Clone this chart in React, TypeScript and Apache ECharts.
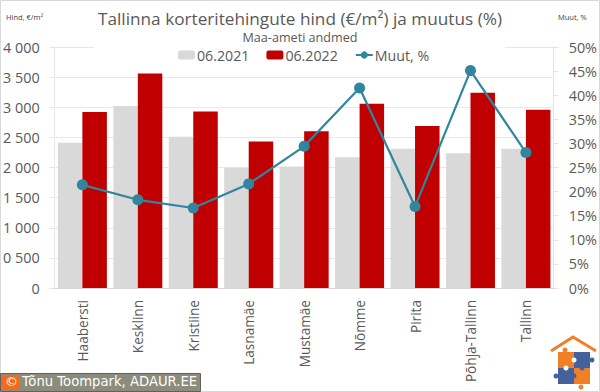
import React, { useEffect, useRef } from "react";
import * as echarts from "echarts";

const categories = ["Haabersti", "Kesklinn", "Kristiine", "Lasnamäe", "Mustamäe", "Nõmme", "Pirita", "Põhja-Tallinn", "Tallinn"];
const price2021 = [2410, 3020, 2510, 1995, 2015, 2170, 2310, 2235, 2310];
const price2022 = [2920, 3560, 2930, 2430, 2600, 3060, 2690, 3240, 2960];
const change = [21.4, 18.3, 16.6, 21.6, 29.4, 41.5, 16.9, 45.1, 28.1];

const FONT = "'Open Sans'";
const TXT = "#595959";

const fmtThousand = (v: number) => (v === 0 ? "0" : `${Math.floor(v / 1000)} ${String(v % 1000).padStart(3, "0")}`);

const orange = "#f07f26";
const blue = "#44619d";

export default function App() {
  const ref = useRef<HTMLDivElement>(null);
  useEffect(() => {
    const chart = echarts.init(ref.current!, null, { renderer: "svg" });
    chart.setOption({
      animation: false,
      backgroundColor: "#fff",
      textStyle: { fontFamily: FONT },
      title: {
        text: "Tallinna korteritehingute hind (€/m²) ja muutus (%)",
        left: 295, top: 5, textAlign: "center",
        textStyle: { fontFamily: FONT, fontSize: 17.2, fontWeight: "normal", color: TXT },
      },
      legend: {
        top: 48, left: 178, itemGap: 17, itemWidth: 17, itemHeight: 9, padding: 0,
        textStyle: { fontFamily: FONT, fontSize: 14.2, color: TXT, padding: [0, 0, 0, -3] },
        data: [{ name: "06.2021" }, { name: "06.2022" }, { name: "Muut, %" }],
      },
      grid: { left: 54, right: 45, top: 47, bottom: 104 },
      xAxis: {
        type: "category", data: categories,
        axisLine: { lineStyle: { color: "#d9d9d9" } },
        axisTick: { show: false },
        axisLabel: { rotate: 90, fontFamily: FONT, fontSize: 13.6, color: TXT, margin: 12, interval: 0 },
      },
      yAxis: [
        {
          type: "value", min: 0, max: 4000, interval: 500,
          axisLine: { show: true, lineStyle: { color: "#e8e8e8" } },
          axisTick: { show: true, length: 5, lineStyle: { color: "#e4e4e4" } },
          splitLine: { lineStyle: { color: "#e8e8e8" } },
          axisLabel: { fontFamily: FONT, fontSize: 14.4, color: TXT, formatter: fmtThousand, margin: 15 },
        },
        {
          type: "value", min: 0, max: 50, interval: 5, position: "right",
          axisLine: { show: true, lineStyle: { color: "#e4e4e4" } },
          axisTick: { show: true, length: 5, lineStyle: { color: "#e4e4e4" } },
          splitLine: { show: false },
          axisLabel: { fontFamily: FONT, fontSize: 14.4, color: TXT, formatter: "{value}%", margin: 15 },
        },
      ],
      series: [
        { name: "06.2021", type: "bar", data: price2021, barWidth: 24.5, barGap: "0%", itemStyle: { color: "#d9d9d9" } },
        { name: "06.2022", type: "bar", data: price2022, barWidth: 24.5, itemStyle: { color: "#c00000" } },
        {
          name: "Muut, %", type: "line", yAxisIndex: 1, data: change,
          symbol: "circle", symbolSize: 11, lineStyle: { color: "#31859c", width: 2.2 },
          itemStyle: { color: "#31859c" },
        },
      ],
      graphic: [
        { type: "rect", z: 1, shape: { x: 94, y: 40, width: 411, height: 14 }, style: { fill: "#fff" } },
        { type: "rect", z: 0, shape: { x: 0.5, y: 0.5, width: 599, height: 391 }, style: { fill: "none", stroke: "#d9d9d9" } },
        { type: "text", z: 10, x: 6, y: 13, style: { text: "Hind, €/m²", fontFamily: FONT, fontSize: 7.5, fill: "#404040" } },
        { type: "text", z: 10, x: 558, y: 13, style: { text: "Muut, %", fontFamily: FONT, fontSize: 7.5, fill: "#404040" } },
        { type: "text", z: 10, x: 300, y: 31, style: { text: "Maa-ameti andmed", fontFamily: FONT, fontSize: 12.6, fill: TXT, align: "center" } },
        // copyright badge
        { type: "rect", z: 10, shape: { x: 0.5, y: 373.5, width: 200, height: 18 }, style: { fill: "#8c8c7c", stroke: "#606060" } },
        { type: "rect", z: 11, shape: { x: 2, y: 375, width: 18, height: 15 }, style: { fill: "#f26a1b" } },
        { type: "text", z: 12, x: 5, y: 375, style: { text: "©", fontFamily: "DejaVu Sans", fontSize: 13, fill: "#fff" } },
        { type: "text", z: 12, x: 22, y: 375, style: { text: "Tõnu Toompark, ADAUR.EE", fontFamily: "DejaVu Sans", fontSize: 13.2, fill: "#fff" } },
        // logo
        { type: "polyline", z: 10, shape: { points: [[551, 351], [573, 337], [596, 351]] }, style: { fill: "none", stroke: orange, lineWidth: 3 } },
        { type: "rect", z: 10, shape: { x: 558, y: 352, width: 16, height: 16 }, style: { fill: orange } },
        { type: "rect", z: 10, shape: { x: 574, y: 352, width: 16, height: 16 }, style: { fill: blue } },
        { type: "rect", z: 10, shape: { x: 558, y: 368, width: 16, height: 16 }, style: { fill: blue } },
        { type: "rect", z: 10, shape: { x: 574, y: 368, width: 16, height: 16 }, style: { fill: orange } },
        { type: "circle", z: 11, shape: { cx: 565, cy: 350, r: 2.5 }, style: { fill: orange } },
        { type: "circle", z: 11, shape: { cx: 592, cy: 360, r: 2.5 }, style: { fill: blue } },
        { type: "circle", z: 11, shape: { cx: 556, cy: 376, r: 2.5 }, style: { fill: blue } },
        { type: "circle", z: 11, shape: { cx: 581, cy: 387, r: 2.5 }, style: { fill: orange } },
        { type: "circle", z: 11, shape: { cx: 574, cy: 360, r: 2.5 }, style: { fill: "#fff" } },
        { type: "circle", z: 11, shape: { cx: 566, cy: 368, r: 2.5 }, style: { fill: "#fff" } },
        { type: "circle", z: 11, shape: { cx: 582, cy: 368, r: 2.5 }, style: { fill: blue } },
        { type: "circle", z: 11, shape: { cx: 574, cy: 376, r: 2.5 }, style: { fill: blue } },
      ],
    });
    return () => chart.dispose();
  }, []);
  return <div ref={ref} style={{ position: "fixed", left: 0, top: 0, width: 600, height: 392 }} />;
}
